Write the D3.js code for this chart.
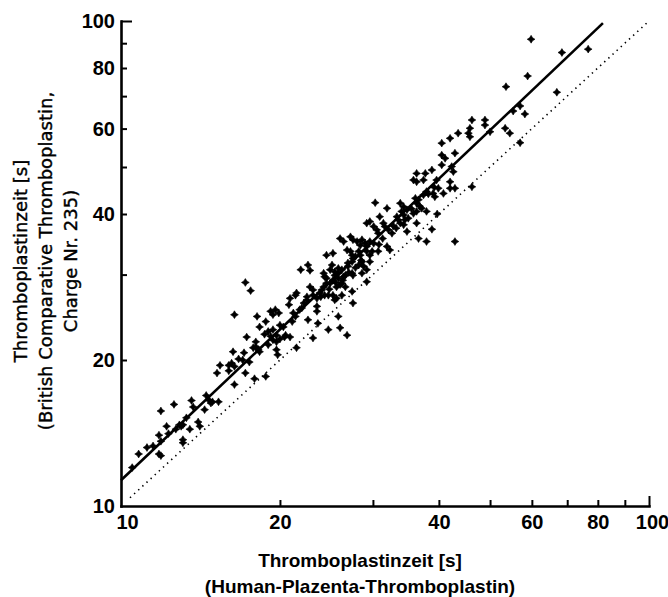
<!DOCTYPE html>
<html><head><meta charset="utf-8">
<script src="https://cdn.jsdelivr.net/npm/d3@7"></script>
<style>body{margin:0;background:#fff}svg{display:block}</style>
</head><body><svg id="c" width="668" height="597"></svg>
<script>
// Thromboplastinzeit [s] – Human-Plazenta-Thromboplastin (x) vs. British Comparative Thromboplastin (y)
const hptSeconds = [
  // 10–20 s
  10.5,10.8,11.2,11.5,11.8,11.9,11.8,11.9,11.9,12.2,12.6,12.7,12.9,13.0,13.1,13.1,13.1,13.5,13.6,13.7,
  14.0,14.1,14.4,14.7,14.8,14.9,15.3,15.2,15.4,16.0,16.2,16.3,16.4,16.4,16.7,17.1,17.2,17.3,17.5,17.8,
  18.0,18.2,18.3,17.9,18.7,18.8,19.0,19.7,19.8,19.7,20.0,20.4,
  // 16–29 s
  16.4,17.2,17.6,18.1,18.3,18.8,19.2,19.4,19.6,19.9,
  19.0,19.4,19.4,19.7,20.0,20.3,20.5,20.8,20.9,20.9,
  21.1,21.4,21.5,21.5,21.2,21.4,21.8,22.0,21.9,22.6,
  22.8,22.2,22.5,22.6,22.5,23.1,23.5,22.8,23.1,23.1,
  23.5,23.5,23.6,23.8,24.0,24.2,24.2,24.3,24.3,24.5,
  25.2,24.7,24.9,25.2,24.9,25.4,25.2,25.6,25.6,26.0,
  25.8,26.0,25.8,26.2,26.4,26.6,26.8,26.9,27.4,27.2,
  27.4,27.5,27.8,27.4,27.5,27.5,28.0,28.4,29.0,29.2,
  28.2,28.6,29.2,
  // 24–40 s
  30.3,31.9,33.8,34.3,34.0,36.1,36.3,36.6,37.4,37.9,
  36.3,37.4,39.0,39.3,37.9,39.7,29.2,29.6,30.1,30.9,
  31.4,31.6,30.5,30.7,32.1,32.6,33.3,33.5,33.8,34.3,
  34.8,34.5,35.0,35.8,36.3,36.6,37.9,26.0,26.4,27.2,
  27.5,28.6,29.6,30.1,26.8,28.2,28.4,29.2,29.6,30.7,
  31.9,32.3,28.6,28.8,29.6,25.1,25.8,26.9,29.2,24.5,
  25.4,25.8,24.5,26.2,26.6,27.4,24.7,25.4,26.2,38.8,
  // 34–55 s
  46.2,45.8,48.9,48.9,43.5,45.5,45.8,50.0,53.4,54.5,
  40.5,42.0,40.5,41.1,42.9,40.5,42.3,42.6,38.8,36.3,
  37.7,35.8,39.6,42.0,39.9,42.0,42.9,40.8,46.2,37.1,
  34.8,34.3,36.3,42.9,
  // > 50 s
  59.8,68.4,76.7,58.9,53.6,66.9,55.3,57.0,58.2,57.0,
  // dense band along the regression line
  12.3,13.3,14.5,16.0,17.0,18.0,19.2,23.9,24.8,25.5,26.3,27.0,27.8,28.5,29.9,30.8,31.3,32.8,33.2,35.5,
  36.8,38.2,39.2
];
const bctSeconds = [
  12.0,12.8,13.2,13.3,14.0,13.6,12.8,12.7,15.7,14.6,16.2,14.4,14.7,14.6,14.7,13.7,13.5,14.4,16.5,16.0,
  14.9,14.6,15.8,16.5,16.3,16.4,16.4,18.8,19.5,19.5,19.7,20.8,19.4,17.8,20.1,20.7,18.8,22.3,19.8,21.2,
  21.3,21.0,20.8,18.3,22.6,18.5,21.5,21.0,20.5,22.5,22.1,22.3,
  24.8,28.9,27.8,24.6,23.4,24.0,25.2,24.8,25.4,25.0,
  22.9,23.1,22.0,21.8,23.6,23.4,22.5,26.0,26.8,22.3,
  24.0,27.2,27.5,21.2,25.0,24.6,25.4,25.6,30.7,31.4,
  30.6,26.2,26.6,24.2,27.0,27.2,26.8,28.3,27.9,22.2,
  25.8,25.2,23.8,27.5,27.9,28.3,30.2,29.7,27.2,32.9,
  33.2,23.1,28.8,29.2,30.7,30.4,27.2,26.8,28.3,28.6,
  24.6,23.3,30.2,30.7,29.7,29.9,22.5,31.7,31.9,33.5,
  32.9,32.4,32.7,30.2,29.9,26.2,35.1,34.5,34.8,34.3,
  31.4,30.2,29.0,
  42.2,41.1,42.1,41.4,40.5,43.1,42.1,42.8,43.8,44.5,
  46.6,47.0,44.1,43.4,40.5,40.0,38.3,38.6,37.7,39.5,
  38.3,37.7,37.1,36.5,37.1,36.5,39.5,38.9,38.3,38.0,
  36.8,38.9,39.2,40.1,38.3,35.6,35.1,35.6,35.1,35.9,
  35.4,35.4,35.1,34.8,33.7,33.5,32.9,33.5,32.9,33.5,
  34.3,33.7,31.9,31.2,31.9,31.4,30.9,31.2,30.7,29.5,
  29.9,29.5,28.8,28.8,28.3,27.7,27.2,26.6,27.2,37.2,
  62.5,60.1,62.5,61.0,58.7,58.7,57.7,59.1,60.1,58.7,
  56.0,57.3,52.9,52.1,53.4,50.5,50.1,48.9,49.3,48.5,
  48.5,47.0,47.0,46.6,45.2,45.2,45.2,44.1,45.5,41.1,
  40.8,39.8,40.5,35.1,
  91.7,86.1,87.5,77.0,73.2,71.3,65.2,66.8,64.3,56.1,
  14.1,15.2,16.9,19.0,20.0,21.8,22.4,27.0,28.0,28.9,29.2,30.3,31.0,32.1,33.5,34.6,35.6,37.8,37.4,41.0,
  41.5,44.0,45.4
];
const regressionX = [10, 81.8];
const regressionY = [11.3, 99];
const identityRange = [10.4, 99.5];
const tickValuesAll = [10, 20, 30, 40, 50, 60, 70, 80, 90, 100];
const labelledTicks = [10, 20, 40, 60, 80, 100];
const xTitle = ["Thromboplastinzeit [s]", "(Human-Plazenta-Thromboplastin)"];
const yTitle = ["Thromboplastinzeit [s]", "(British Comparative Thromboplastin,", "Charge Nr. 235)"];

if (hptSeconds.length !== bctSeconds.length) console.error("length mismatch", hptSeconds.length, bctSeconds.length);

const svg = d3.select("#c");
const x = d3.scaleLog().domain([10, 100]).range([121, 649]);
const y = d3.scaleLog().domain([10, 100]).range([506, 21]);
const fmt = d => labelledTicks.includes(d) ? String(d) : "";

// X axis
const gx = svg.append("g").attr("transform", "translate(0,506)")
  .call(d3.axisBottom(x).tickValues(tickValuesAll).tickSizeInner(-6).tickSizeOuter(0).tickPadding(9).tickFormat(fmt));
// Y axis
const gy = svg.append("g").attr("transform", "translate(121,0)")
  .call(d3.axisLeft(y).tickValues(tickValuesAll).tickSizeInner(-6).tickSizeOuter(0).tickPadding(6).tickFormat(fmt));

[gx, gy].forEach(g => {
  g.select(".domain").attr("stroke", "#000").attr("stroke-width", 2.6).attr("stroke-linecap", "square");
  g.selectAll(".tick line").attr("stroke", "#000").attr("stroke-width", 2);
  g.selectAll(".tick text").attr("fill", "#000")
    .style("font-family", "'Liberation Sans', Arial, sans-serif")
    .style("font-weight", "bold").style("font-size", "20px");
  g.selectAll(".tick").filter(d => d === 10).select("line").remove();
});
gx.selectAll(".tick").filter(d => d === 100).select("line").attr("y2", -10);
gy.selectAll(".tick").filter(d => d === 100).select("line").attr("x2", 11);
gx.selectAll(".tick").filter(d => d === 10).select("text").attr("dx", 6);
gx.selectAll(".tick").filter(d => d === 100).select("text").attr("dx", 3);

// identity line (dotted)
const line = d3.line().x(d => x(d[0])).y(d => y(d[1]));
svg.append("path")
  .datum(identityRange.map(v => [v, v]))
  .attr("d", line).attr("fill", "none").attr("stroke", "#000")
  .attr("stroke-width", 1.6).attr("stroke-dasharray", "1.4,4.2");

// regression line
svg.append("path")
  .datum(regressionX.map((v, i) => [v, regressionY[i]]))
  .attr("d", line).attr("fill", "none").attr("stroke", "#000").attr("stroke-width", 2.6);

// points
const marker = "M0,-3.9L1.5,-1.5L3.9,0L1.5,1.5L0,3.9L-1.5,1.5L-3.9,0L-1.5,-1.5Z";
svg.append("g").selectAll("path")
  .data(hptSeconds.map((v, i) => [v, bctSeconds[i]]))
  .join("path")
  .attr("d", marker)
  .attr("transform", d => `translate(${x(d[0])},${y(d[1])})`)
  .attr("fill", "#000").attr("stroke", "#000").attr("stroke-width", 0.6);

// X title
svg.append("g").selectAll("text").data(xTitle).join("text")
  .attr("x", 360).attr("y", (d, i) => 567 + i * 26)
  .attr("text-anchor", "middle")
  .style("font-family", "'Liberation Sans', Arial, sans-serif")
  .style("font-weight", "bold").style("font-size", "19px")
  .text(d => d);

// Y title
svg.append("g").selectAll("text").data(yTitle).join("text")
  .attr("transform", (d, i) => `translate(${21 + i * 25},261) rotate(-90)`)
  .attr("text-anchor", "middle").attr("dy", "0.35em")
  .style("font-family", "'DejaVu Sans', sans-serif")
  .style("font-size", "18px")
  .attr("stroke", "#000").attr("stroke-width", 0.4)
  .text(d => d);
</script>
</body></html>
